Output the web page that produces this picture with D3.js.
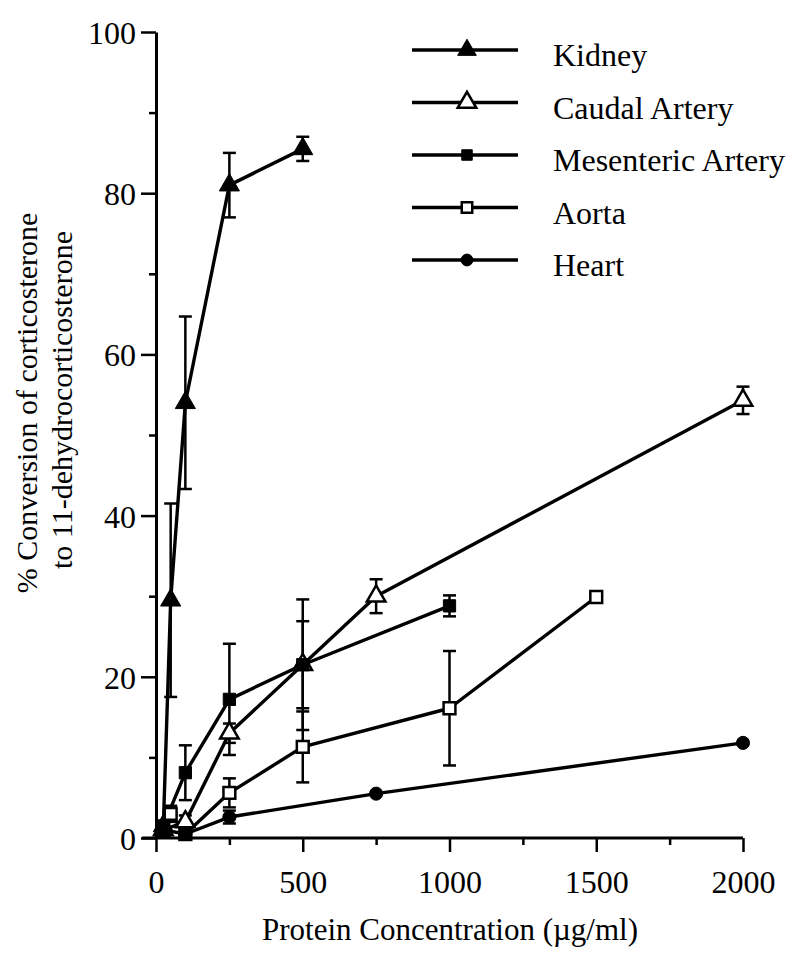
<!DOCTYPE html>
<html>
<head>
<meta charset="utf-8">
<script src="https://cdn.jsdelivr.net/npm/d3@7"></script>
<style>
  html, body { margin: 0; padding: 0; background: #fff; }
  svg text { font-family: "Liberation Serif", "DejaVu Serif", serif !important; fill: #000; }
</style>
</head>
<body>
<svg id="chart" width="792" height="953"></svg>
<script>
// ---- data ----
const seriesNames = ["Kidney", "Caudal Artery", "Mesenteric Artery", "Aorta", "Heart"];

const kidneyX   = [25, 50, 100, 250, 500];
const kidneyY   = [1.5, 29.5, 54, 81, 85.5];
const kidneyErr = [0, 12, 10.7, 4, 1.5];

const caudalX   = [25, 100, 250, 500, 750, 2000];
const caudalY   = [1.0, 2.0, 13.0, 21.5, 30.0, 54.3];
const caudalErr = [0, 0.8, 1.2, 5.4, 2.1, 1.7];

const mesentericX   = [25, 100, 250, 500, 1000];
const mesentericY   = [1.5, 8.1, 17.2, 21.5, 28.8];
const mesentericErr = [0.5, 3.4, 6.9, 8.1, 1.3];

const aortaX   = [25, 50, 100, 250, 500, 1000, 1500];
const aortaY   = [1.0, 3.0, 0.5, 5.6, 11.3, 16.1, 29.9];
const aortaErr = [0, 1.0, 0, 1.8, 4.4, 7.1, 0.3];

const heartX   = [25, 100, 250, 750, 2000];
const heartY   = [1.0, 0.5, 2.6, 5.5, 11.8];
const heartErr = [0, 0, 0.8, 0, 0];

const xMajorTicks = [0, 500, 1000, 1500, 2000];
const xMinorTicks = [250, 750, 1250, 1750];
const yMajorTicks = [0, 20, 40, 60, 80, 100];
const yMinorTicks = [10, 30, 50, 70, 90];

const xTitle = "Protein Concentration (\u00b5g/ml)";
const yTitle1 = "% Conversion of corticosterone";
const yTitle2 = "to 11-dehydrocorticosterone";

// ---- layout ----
const FONT = "'Liberation Serif', 'DejaVu Serif', serif";
const svg = d3.select("#chart");
const x = d3.scaleLinear().domain([0, 2000]).range([156, 743]);
const y = d3.scaleLinear().domain([0, 100]).range([838, 32]);

const series = [
  { name: seriesNames[0], xs: kidneyX, ys: kidneyY, es: kidneyErr, shape: d3.symbolTriangle, size: 175, fill: "#000" },
  { name: seriesNames[1], xs: caudalX, ys: caudalY, es: caudalErr, shape: d3.symbolTriangle, size: 150, fill: "#fff" },
  { name: seriesNames[2], xs: mesentericX, ys: mesentericY, es: mesentericErr, shape: d3.symbolSquare, size: 150, fill: "#000" },
  { name: seriesNames[3], xs: aortaX, ys: aortaY, es: aortaErr, shape: d3.symbolSquare, size: 140, fill: "#fff" },
  { name: seriesNames[4], xs: heartX, ys: heartY, es: heartErr, shape: d3.symbolCircle, size: 135, fill: "#000" }
];

// axes
const axisG = svg.append("g");
const xMajor = axisG.append("g").attr("transform", `translate(0,${y(0)})`)
  .call(d3.axisBottom(x).tickValues(xMajorTicks).tickSize(14).tickSizeOuter(0).tickPadding(18).tickFormat(d3.format("d")));
xMajor.select(".domain").attr("d", `M${x(0) - 14},0H${x(2000)}`);
const xMinor = axisG.append("g").attr("transform", `translate(0,${y(0)})`)
  .call(d3.axisBottom(x).tickValues(xMinorTicks).tickSize(7).tickFormat(""));
xMinor.select(".domain").remove();

const yMajor = axisG.append("g").attr("transform", `translate(${x(0)},0)`)
  .call(d3.axisLeft(y).tickValues(yMajorTicks).tickSize(15).tickSizeOuter(0).tickPadding(5));
const yMinor = axisG.append("g").attr("transform", `translate(${x(0)},0)`)
  .call(d3.axisLeft(y).tickValues(yMinorTicks).tickSize(7).tickFormat(""));
yMinor.select(".domain").remove();

axisG.selectAll("g").attr("font-family", FONT);
axisG.selectAll(".domain").attr("stroke", "#000").attr("stroke-width", 3);
axisG.selectAll(".tick line").attr("stroke", "#000").attr("stroke-width", 2.5);
axisG.selectAll(".tick text").attr("font-size", 32).attr("font-family", FONT).attr("fill", "#000");
yMajor.selectAll(".tick text").attr("dy", "0.36em");
xMajor.selectAll(".tick text").attr("dy", "0.71em");

// titles
svg.append("text").attr("x", 450).attr("y", 940).attr("text-anchor", "middle")
  .attr("font-family", FONT).attr("font-size", 31).text(xTitle);
svg.append("text").attr("transform", "translate(37,403) rotate(-90)").attr("text-anchor", "middle")
  .attr("font-family", FONT).attr("font-size", 30).text(yTitle1);
svg.append("text").attr("transform", "translate(72,400) rotate(-90)").attr("text-anchor", "middle")
  .attr("font-family", FONT).attr("font-size", 30).text(yTitle2);

// data
const plot = svg.append("g");
const line = d3.line().x(d => x(d[0])).y(d => y(d[1]));
series.forEach(s => {
  const pts = s.xs.map((v, i) => [v, s.ys[i], s.es[i]]);
  plot.append("path").datum(pts).attr("d", line)
    .attr("fill", "none").attr("stroke", "#000").attr("stroke-width", 3.4).attr("stroke-linejoin", "round");
});
series.forEach(s => {
  const pts = s.xs.map((v, i) => [v, s.ys[i], s.es[i]]).filter(d => d[2] > 0);
  const g = plot.append("g").attr("stroke", "#000").attr("stroke-width", 2.5);
  g.selectAll("line.v").data(pts).enter().append("line")
    .attr("x1", d => x(d[0])).attr("x2", d => x(d[0]))
    .attr("y1", d => y(d[1] - d[2])).attr("y2", d => y(d[1] + d[2]));
  g.selectAll("line.t").data(pts).enter().append("line")
    .attr("x1", d => x(d[0]) - 6.5).attr("x2", d => x(d[0]) + 6.5)
    .attr("y1", d => y(d[1] + d[2])).attr("y2", d => y(d[1] + d[2]));
  g.selectAll("line.b").data(pts).enter().append("line")
    .attr("x1", d => x(d[0]) - 6.5).attr("x2", d => x(d[0]) + 6.5)
    .attr("y1", d => y(d[1] - d[2])).attr("y2", d => y(d[1] - d[2]));
});
series.forEach(s => {
  const pts = s.xs.map((v, i) => [v, s.ys[i]]);
  plot.append("g").selectAll("path").data(pts).enter().append("path")
    .attr("d", d3.symbol().type(s.shape).size(s.size))
    .attr("transform", d => `translate(${x(d[0])},${y(d[1])})`)
    .attr("fill", s.fill).attr("stroke", "#000").attr("stroke-width", s.fill === "#fff" ? 2.5 : 1);
});

// legend
const legend = svg.append("g");
series.forEach((s, i) => {
  const ly = 50 + i * 52.5;
  legend.append("line").attr("x1", 412).attr("x2", 518).attr("y1", ly).attr("y2", ly)
    .attr("stroke", "#000").attr("stroke-width", 3.4);
  legend.append("path").attr("d", d3.symbol().type(s.shape).size(s.shape === d3.symbolTriangle ? 150 : 110))
    .attr("transform", `translate(467,${ly})`)
    .attr("fill", s.fill).attr("stroke", "#000").attr("stroke-width", s.fill === "#fff" ? 2.5 : 1);
  legend.append("text").attr("x", 553).attr("y", ly + 16)
    .attr("font-family", FONT).attr("font-size", 32).text(s.name);
});
</script>
</body>
</html>
